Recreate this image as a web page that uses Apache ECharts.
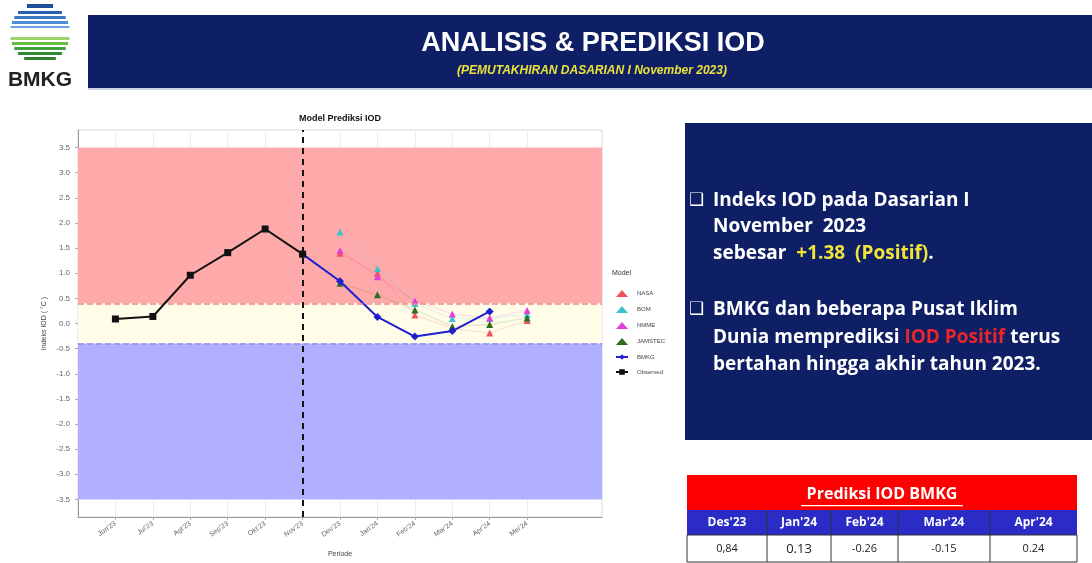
<!DOCTYPE html>
<html>
<head>
<meta charset="utf-8">
<script src="https://cdn.jsdelivr.net/npm/echarts@6/dist/echarts.min.js"></script>
<style>
  html, body { margin: 0; padding: 0; background: #fff; }
  #main { width: 1092px; height: 563px; }
</style>
</head>
<body>
<div id="main"></div>
<script>
// data
const months = ["Jun'23", "Jul'23", "Agt'23", "Sep'23", "Okt'23", "Nov'23", "Des'23", "Jan'24", "Feb'24", "Mar'24", "Apr'24", "Mei'24"];
const observed = [0.09, 0.14, 0.96, 1.41, 1.88, 1.38];      // Jun'23 .. Nov'23
const bmkg = [1.38, 0.84, 0.13, -0.26, -0.15, 0.24];       // Nov'23 .. Apr'24
const nasa = [1.40, 1.00, 0.17, -0.10, -0.19, 0.06];       // Des'23 .. Mei'24
const bom = [1.82, 1.09, 0.40, 0.10, 0.10, 0.18];
const nmme = [1.45, 0.93, 0.45, 0.19, 0.11, 0.26];
const jamstec = [0.80, 0.57, 0.27, -0.06, -0.02, 0.11];
const yTicks = [-3.5, -3, -2.5, -2, -1.5, -1, -0.5, 0, 0.5, 1, 1.5, 2, 2.5, 3, 3.5];
const tableMonths = ["Des'23", "Jan'24", "Feb'24", "Mar'24", "Apr'24"];
const tableValues = ['0,84', '0.13', '-0.26', '-0.15', '0.24'];

const obsStart = 0, bmkgStart = 5, modelStart = 6;
const pairs = (arr, start) => arr.map((v, i) => [start + i, v]);

const chart = echarts.init(document.getElementById('main'));

// header, logo, text panel and table
const navy = '#0f1f66';
const graphic = [];

// logo
const lc = { x: 40, y: 33, r: 30 };
const stripes = [
  { y: 4, h: 4, c: '#1d4f9c' }, { y: 11, h: 3, c: '#2a62b3' }, { y: 16, h: 3, c: '#3b78c6' },
  { y: 21, h: 3, c: '#4f8fd6' }, { y: 26, h: 2, c: '#6aa5e0' },
  { y: 37, h: 3, c: '#9fd36a' }, { y: 42, h: 3, c: '#6cbf3e' }, { y: 47, h: 3, c: '#3fa23a' },
  { y: 52, h: 3, c: '#2e8b34' }, { y: 57, h: 3, c: '#2f7d2e' }
];
stripes.forEach(s => {
  const dy = Math.abs(s.y + s.h / 2 - lc.y);
  const w = 2 * Math.sqrt(Math.max(lc.r * lc.r - dy * dy, 0));
  graphic.push({ type: 'rect', shape: { x: lc.x - w / 2, y: s.y, width: w, height: s.h }, style: { fill: s.c } });
});
graphic.push({ type: 'text', style: { text: 'BMKG', x: 40, y: 80, align: 'center', verticalAlign: 'middle',
  font: 'bold 21px "Liberation Sans Narrow", "Liberation Sans", sans-serif', fill: '#222' } });

// banner
graphic.push({ type: 'rect', shape: { x: 88, y: 15, width: 1004, height: 73 }, style: { fill: navy } });
graphic.push({ type: 'rect', shape: { x: 88, y: 88, width: 1004, height: 2 }, style: { fill: '#c9d3e6' } });
graphic.push({ type: 'text', style: { text: 'ANALISIS & PREDIKSI IOD', x: 593, y: 44, align: 'center', verticalAlign: 'middle',
  font: 'bold 27px "Liberation Sans Narrow", sans-serif', fill: '#ffffff' } });
graphic.push({ type: 'text', style: { text: '(PEMUTAKHIRAN DASARIAN I November 2023)', x: 592, y: 71, align: 'center', verticalAlign: 'middle',
  font: 'italic bold 12px "Liberation Sans Narrow", sans-serif', fill: '#e8e23a' } });

// chart title
graphic.push({ type: 'text', style: { text: 'Model Prediksi IOD', x: 340, y: 119, align: 'center', verticalAlign: 'middle',
  font: 'bold 9px "Liberation Sans", sans-serif', fill: '#111' } });
graphic.push({ type: 'text', style: { text: 'Model', x: 612, y: 273, verticalAlign: 'middle',
  font: '7px "Liberation Sans", sans-serif', fill: '#333' } });

// band labels
graphic.push({ type: 'text', style: { text: 'DM[+]', x: 114, y: 264, verticalAlign: 'middle', font: '16px "Liberation Sans", sans-serif', fill: '#6a2a30' } });
graphic.push({ type: 'text', style: { text: 'NETRAL', x: 114, y: 327, verticalAlign: 'middle', font: '16px "Liberation Sans", sans-serif', fill: '#2a2a2a' } });
graphic.push({ type: 'text', style: { text: 'DM[-]', x: 114, y: 391, verticalAlign: 'middle', font: '16px "Liberation Sans", sans-serif', fill: '#2a2a6a' } });

// right text panel
graphic.push({ type: 'rect', shape: { x: 685, y: 123, width: 407, height: 317 }, style: { fill: navy } });
const pf = 'bold 19px "Open Sans", sans-serif';
const rich = {
  w: { fill: '#ffffff', font: pf },
  y: { fill: '#f2e33a', font: pf },
  r: { fill: '#e8262b', font: pf }
};
const panelLines = [
  { y: 201, t: '{w|Indeks IOD pada Dasarian I}', b: true },
  { y: 227, t: '{w|November  2023}' },
  { y: 254, t: '{w|sebesar  }{y|+1.38  (Positif)}{w|.}' },
  { y: 310, t: '{w|BMKG dan beberapa Pusat Iklim}', b: true },
  { y: 338, t: '{w|Dunia memprediksi }{r|IOD Positif}{w| terus}' },
  { y: 365, t: '{w|bertahan hingga akhir tahun 2023.}' }
];
panelLines.forEach(l => {
  if (l.b) graphic.push({ type: 'text', style: { text: '\u2751', x: 689, y: l.y, verticalAlign: 'middle', font: 'bold 17px "DejaVu Sans", sans-serif', fill: '#ffffff' } });
  graphic.push({ type: 'text', style: { text: l.t, rich: rich, x: 713, y: l.y, verticalAlign: 'middle', font: pf, fill: '#ffffff' } });
});

// table
const colX = [687, 767, 831, 898, 990, 1077];
graphic.push({ type: 'rect', shape: { x: 687, y: 475, width: 390, height: 35 }, style: { fill: '#ff0000' } });
graphic.push({ type: 'text', style: { text: 'Prediksi IOD BMKG', x: 882, y: 494, align: 'center', verticalAlign: 'middle',
  font: 'bold 16px "Open Sans", sans-serif', fill: '#ffffff' } });
graphic.push({ type: 'rect', shape: { x: 801, y: 505, width: 162, height: 1.2 }, style: { fill: '#ffffff' } });
graphic.push({ type: 'rect', shape: { x: 687, y: 510, width: 390, height: 25 }, style: { fill: '#2b2bc6' } });
graphic.push({ type: 'rect', shape: { x: 687, y: 535, width: 390, height: 27 }, style: { fill: '#ffffff', stroke: '#333', lineWidth: 1 } });
tableMonths.forEach((m, i) => {
  const cx = (colX[i] + colX[i + 1]) / 2;
  graphic.push({ type: 'text', style: { text: m, x: cx, y: 523, align: 'center', verticalAlign: 'middle',
    font: 'bold 12px "Open Sans", sans-serif', fill: '#ffffff' } });
  graphic.push({ type: 'text', style: { text: tableValues[i], x: cx, y: 549, align: 'center', verticalAlign: 'middle',
    font: (i === 1 ? '13px' : '11px') + ' "Open Sans", sans-serif', fill: '#222' } });
  if (i > 0) {
    graphic.push({ type: 'rect', shape: { x: colX[i] - 0.5, y: 510, width: 1, height: 52 }, style: { fill: '#333' } });
  }
});

const modelSeries = (name, arr, color) => ({
  name: name, type: 'line', z: 3,
  data: pairs(arr, modelStart),
  symbol: 'triangle', symbolSize: 7,
  itemStyle: { color: color },
  lineStyle: { color: color, width: 1.5, opacity: 0.13 }
});

chart.setOption({
  animation: false,
  textStyle: { fontFamily: '"Liberation Sans", sans-serif' },
  grid: { left: 78, top: 130, width: 524, height: 391, show: true, borderColor: '#d8d8e8', borderWidth: 1 },
  legend: {
    orient: 'vertical', left: 610, top: 285, itemGap: 9, itemWidth: 12, itemHeight: 7,
    textStyle: { fontSize: 6, color: '#444', padding: [0, 0, 0, 4] },
    data: [
      { name: 'NASA', icon: 'triangle' }, { name: 'BOM', icon: 'triangle' },
      { name: 'NMME', icon: 'triangle' }, { name: 'JAMSTEC', icon: 'triangle' },
      'BMKG', 'Observed'
    ]
  },
  xAxis: {
    type: 'value', min: -1, max: 13, interval: 1,
    name: 'Periode', nameLocation: 'middle', nameGap: 34,
    nameTextStyle: { fontSize: 7, color: '#444' },
    axisLine: { onZero: false, lineStyle: { color: '#999' } },
    axisTick: { customValues: months.map((m, i) => i), length: 3, lineStyle: { color: '#aaa' } },
    axisLabel: { customValues: months.map((m, i) => i), rotate: 35, fontSize: 7, color: '#666', margin: 6,
      formatter: v => months[v] || '' },
    splitLine: { show: true, lineStyle: { color: '#eeeeee' } }
  },
  yAxis: {
    type: 'value', min: -3.85, max: 3.85,
    name: 'Indeks IOD ( \u00b0C )', nameLocation: 'middle', nameGap: 30,
    nameTextStyle: { fontSize: 7, color: '#444' },
    axisLine: { show: true, onZero: false, lineStyle: { color: '#999' } },
    axisTick: { show: true, customValues: yTicks, length: 3, lineStyle: { color: '#aaa' } },
    axisLabel: { customValues: yTicks, fontSize: 8, color: '#666', margin: 8, formatter: v => v.toFixed(1) },
    splitLine: { show: false }
  },
  series: [
    {
      name: 'bands', type: 'line', data: [], z: 1, silent: true,
      markArea: {
        silent: true,
        data: [
          [{ yAxis: 0.4, itemStyle: { color: '#ffaaaa' } }, { yAxis: 3.5 }],
          [{ yAxis: -0.4, itemStyle: { color: '#fffde8' } }, { yAxis: 0.4 }],
          [{ yAxis: -3.5, itemStyle: { color: '#b0b0ff' } }, { yAxis: -0.4 }]
        ]
      },
      markLine: {
        silent: true, symbol: 'none', label: { show: false },
        data: [
          { yAxis: 0.4, lineStyle: { color: '#ee8a8a', type: 'dashed', width: 1.5 } },
          { yAxis: -0.4, lineStyle: { color: '#8f8ff0', type: 'dashed', width: 1.5 } }
        ]
      }
    },
    {
      name: 'now', type: 'line', data: [], z: 2, silent: true,
      markLine: {
        silent: true, symbol: 'none', label: { show: false },
        data: [{ xAxis: 5 }],
        lineStyle: { color: '#111', type: [6, 5], width: 2 }
      }
    },
    modelSeries('NASA', nasa, '#f0505a'),
    modelSeries('BOM', bom, '#3cc4cc'),
    modelSeries('NMME', nmme, '#e040d8'),
    modelSeries('JAMSTEC', jamstec, '#2e6b1f'),
    {
      name: 'BMKG', type: 'line', z: 4,
      data: pairs(bmkg, bmkgStart),
      symbol: 'diamond', symbolSize: 8,
      itemStyle: { color: '#1f1fd0' },
      lineStyle: { color: '#1f1fd0', width: 2 }
    },
    {
      name: 'Observed', type: 'line', z: 5,
      data: pairs(observed, obsStart),
      symbol: 'rect', symbolSize: 7,
      itemStyle: { color: '#111' },
      lineStyle: { color: '#111', width: 2 }
    }
  ],
  graphic: graphic
});
</script>
</body>
</html>
